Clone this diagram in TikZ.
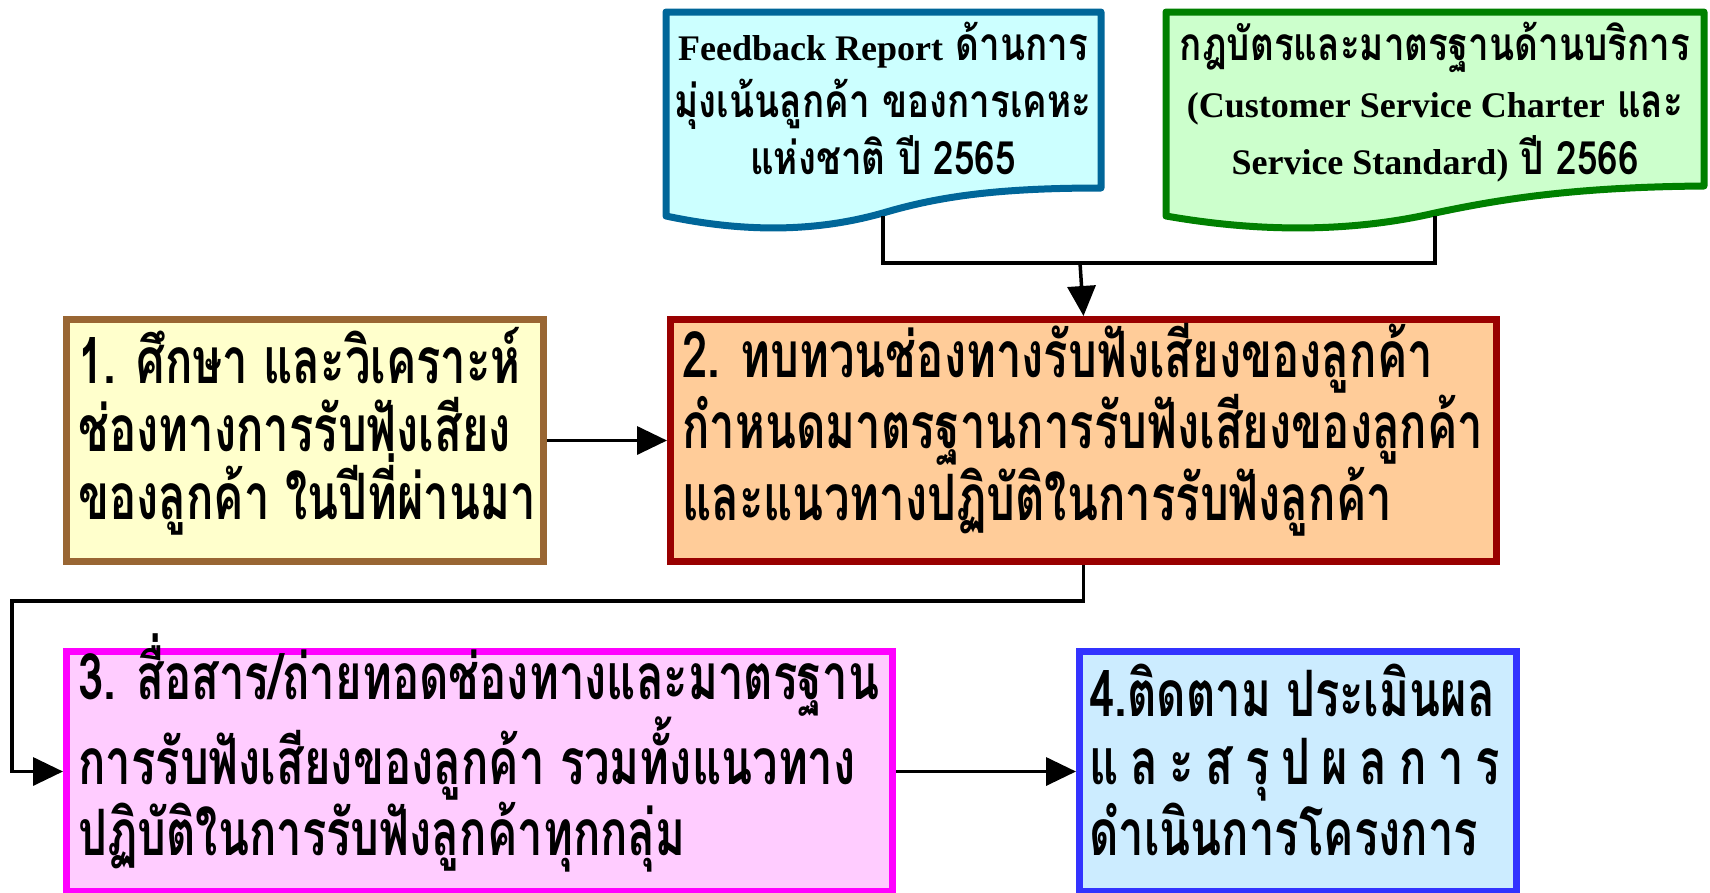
\documentclass[tikz,border=0pt]{standalone}
\usepackage{fontspec}
\usetikzlibrary{arrows.meta}
\newfontfamily\thaibox[Script=Thai,FakeStretch=0.71]{Loma}
\newfontfamily\thaidoc[Script=Thai,FakeStretch=0.8]{Loma}
\newfontfamily\timesfont{Liberation Serif}
\definecolor{docblueB}{RGB}{0,102,153}
\definecolor{docblueF}{RGB}{204,255,255}
\definecolor{docgreenB}{RGB}{0,128,0}
\definecolor{docgreenF}{RGB}{204,255,204}
\definecolor{boxaB}{RGB}{153,102,51}
\definecolor{boxaF}{RGB}{255,255,204}
\definecolor{boxbB}{RGB}{153,0,0}
\definecolor{boxbF}{RGB}{255,204,153}
\definecolor{boxcB}{RGB}{255,0,255}
\definecolor{boxcF}{RGB}{255,204,255}
\definecolor{boxdB}{RGB}{51,51,255}
\definecolor{boxdF}{RGB}{204,236,255}
\tikzset{
  stepbox/.style={rectangle, line width=7pt, anchor=north west, inner sep=0pt},
  boxtext/.style={anchor=base west, align=left, inner sep=0pt,
    font=\thaibox\bfseries\fontsize{64}{68}\selectfont},
  doctext/.style={anchor=base, align=center, inner sep=0pt,
    font=\thaidoc\bfseries\fontsize{46}{57}\selectfont},
  docshape/.style={line width=7pt, line join=round},
  arr/.style={line width=3.5pt, -{Triangle[length=30pt,width=28pt]}},
  link/.style={line width=3.5pt}
}
\begin{document}
\begin{tikzpicture}[x=1pt,y=-1pt]
\useasboundingbox (0,0) rectangle (1710,892);
% documents
\draw[docshape, draw=docblueB, fill=docblueF]
  (666,12) -- (1101,12) -- (1101,188)
  .. controls (1000,188) and (940,196) .. (883,213)
  .. controls (830,228) and (760,236) .. (666,216) -- cycle;
\draw[docshape, draw=docgreenB, fill=docgreenF]
  (1166,12) -- (1704,12) -- (1704,186)
  .. controls (1580,187) and (1505,198) .. (1435,213)
  .. controls (1370,228) and (1280,236) .. (1166,216) -- cycle;
\coordinate (d1b) at (883,216);
\coordinate (d2b) at (1435,216);
\node[doctext] (d1t) at (883,174) {{\timesfont\bfseries\fontsize{36}{57}\selectfont Feedback Report} ด้านการ\\มุ่งเน้นลูกค้า ของการเคหะ\\แห่งชาติ ปี 2565};
\node[doctext] (d2t) at (1435,174) {กฎบัตรและมาตรฐานด้านบริการ\\{\timesfont\bfseries\fontsize{36}{57}\selectfont (Customer Service Charter} และ\\{\timesfont\bfseries\fontsize{36}{57}\selectfont Service Standard)} ปี 2566};
% boxes
\node[stepbox, draw=boxaB, fill=boxaF, minimum width=477pt, minimum height=242pt] (b1) at (63,316) {};
\node[stepbox, draw=boxbB, fill=boxbF, minimum width=826pt, minimum height=242pt] (b2) at (667,316) {};
\node[stepbox, draw=boxcB, fill=boxcF, minimum width=826pt, minimum height=240pt] (b3) at (63,648) {};
\node[stepbox, draw=boxdB, fill=boxdF, minimum width=437pt, minimum height=240pt] (b4) at (1076,648) {};
\node[boxtext] (t1) at (78,519) {1. ศึกษา และวิเคราะห์\\ช่องทางการรับฟังเสียง\\ของลูกค้า ในปีที่ผ่านมา};
\node[boxtext] (t2) at (682,520) {2. ทบทวนช่องทางรับฟังเสียงของลูกค้า\\กำหนดมาตรฐานการรับฟังเสียงของลูกค้า\\และแนวทางปฏิบัติในการรับฟังลูกค้า};
\node[boxtext] (t3) at (78,855) {3. สื่อสาร/ถ่ายทอดช่องทางและมาตรฐาน\\การรับฟังเสียงของลูกค้า รวมทั้งแนวทาง\\ปฏิบัติในการรับฟังลูกค้าทุกกลุ่ม};
\node[boxtext] (t4) at (1089,855) {4.ติดตาม ประเมินผล\\\makebox[411pt][s]{แ\hfill ล\hfill ะ\hfill ส\hfill รุ\hfill ป\hfill ผ\hfill ล\hfill ก\hfill า\hfill ร}\\ดำเนินการโครงการ};
% connectors
\coordinate (join) at (1080,263);
\coordinate (turn) at (12,601);
\draw[link] (d1b) |- (join);
\draw[link] (d2b) |- (join);
\draw[arr] (join) -- (b2.north);
\draw[arr] (b1.east) -- (b2.west);
\draw[arr] (b2.south) |- (turn) |- (b3.west);
\draw[arr] (b3.east) -- (b4.west);
\end{tikzpicture}
\end{document}
